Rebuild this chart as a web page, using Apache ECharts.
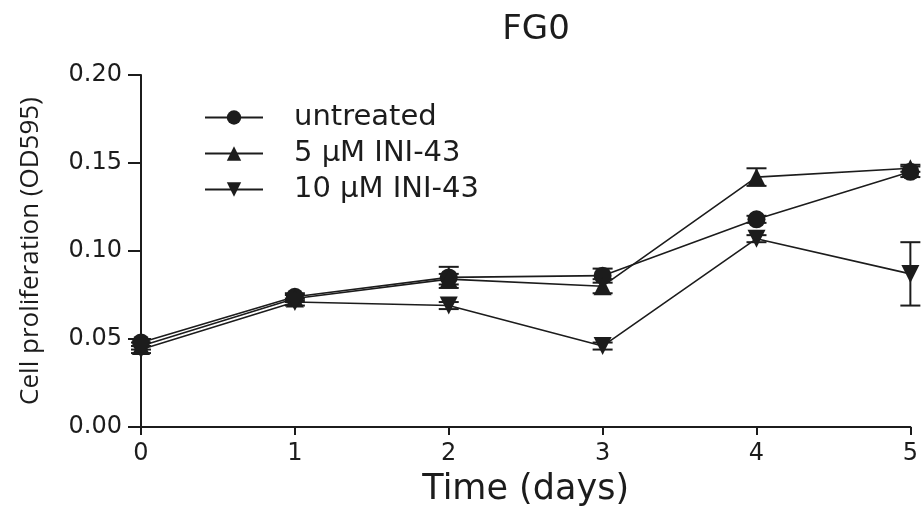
<!DOCTYPE html>
<html>
<head>
<meta charset="utf-8">
<script src="https://cdn.jsdelivr.net/npm/echarts@6/dist/echarts.min.js"></script>
<style>
  html, body { margin: 0; padding: 0; background: #fff; }
  #chart { width: 921px; height: 515px; }
</style>
</head>
<body>
<div id="chart"></div>
<script>
// days
var days = [0, 1, 2, 3, 4, 5]
// OD595 means
var untreated = [0.048, 0.074, 0.085, 0.086, 0.118, 0.145]
var uM5 = [0.046, 0.073, 0.084, 0.080, 0.142, 0.147]
var uM10 = [0.044, 0.071, 0.069, 0.046, 0.107, 0.087]
// error (+/-)
var untreatedErr = [0.002, 0.002, 0.006, 0.004, 0.002, 0.003]
var uM5Err = [0.002, 0.002, 0.003, 0.004, 0.005, 0.002]
var uM10Err = [0.002, 0.002, 0.002, 0.002, 0.002, 0.018]
var yTicks = [0, 0.05, 0.10, 0.15, 0.20]

var chart = echarts.init(document.getElementById('chart'))

function pts (vals) {
  return days.map(function (d, i) { return [d, vals[i]] })
}
function errPts (vals, err) {
  return days.map(function (d, i) { return [d, vals[i] - err[i], vals[i] + err[i]] })
}

// error bar: vertical line with caps
function renderErr (params, api) {
  var x = api.value(0)
  var lo = api.coord([x, api.value(1)])
  var hi = api.coord([x, api.value(2)])
  var w = 10
  var st = { stroke: '#1c1c1c', lineWidth: 2 }
  return {
    type: 'group',
    children: [
      { type: 'line', shape: { x1: lo[0], y1: lo[1], x2: hi[0], y2: hi[1] }, style: st },
      { type: 'line', shape: { x1: lo[0] - w, y1: lo[1], x2: lo[0] + w, y2: lo[1] }, style: st },
      { type: 'line', shape: { x1: hi[0] - w, y1: hi[1], x2: hi[0] + w, y2: hi[1] }, style: st }
    ]
  }
}

function lineSeries (name, vals, symbol, rotate) {
  return {
    name: name,
    type: 'line',
    data: pts(vals),
    symbol: symbol,
    symbolRotate: rotate,
    symbolSize: 18,
    z: 3,
    lineStyle: { color: '#1c1c1c', width: 1.6 },
    itemStyle: { color: '#1c1c1c' }
  }
}

function errSeries (vals, err) {
  return {
    type: 'custom',
    renderItem: renderErr,
    data: errPts(vals, err),
    z: 2,
    silent: true
  }
}

var option = {
  backgroundColor: '#fff',
  animation: false,
  title: {
    text: 'FG0',
    left: 531,
    top: 8,
    textAlign: 'center',
    textStyle: { fontFamily: 'DejaVu Sans', fontSize: 34, fontWeight: 'normal', color: '#1c1c1c' }
  },
  legend: {
    orient: 'vertical',
    left: 199,
    top: 98,
    itemWidth: 58,
    itemHeight: 18,
    itemGap: 7,
    textStyle: {
      fontFamily: 'DejaVu Sans',
      fontSize: 29,
      lineHeight: 26,
      color: '#1c1c1c',
      padding: [0, 0, 0, 26]
    },
    data: ['untreated', '5 µM INI-43', '10 µM INI-43']
  },
  grid: {
    left: 141,
    right: 9,
    top: 75,
    bottom: 88
  },
  xAxis: {
    type: 'value',
    min: 0,
    max: 5,
    interval: 1,
    name: 'Time (days)',
    nameLocation: 'middle',
    nameGap: 45,
    nameTextStyle: { fontFamily: 'DejaVu Sans', fontSize: 35, color: '#1c1c1c' },
    axisLine: { lineStyle: { color: '#1c1c1c', width: 2 } },
    axisTick: { lineStyle: { color: '#1c1c1c', width: 2 }, length: 8 },
    axisLabel: { fontFamily: 'DejaVu Sans', fontSize: 24, color: '#1c1c1c', margin: 15 },
    splitLine: { show: false }
  },
  yAxis: {
    type: 'value',
    min: yTicks[0],
    max: yTicks[yTicks.length - 1],
    interval: 0.05,
    name: 'Cell proliferation (OD595)',
    nameLocation: 'middle',
    nameGap: 97,
    nameTextStyle: { fontFamily: 'Open Sans', fontSize: 26, color: '#1c1c1c' },
    axisLine: { show: true, lineStyle: { color: '#1c1c1c', width: 2 } },
    axisTick: { show: true, lineStyle: { color: '#1c1c1c', width: 2 }, length: 13 },
    axisLabel: {
      fontFamily: 'DejaVu Sans',
      fontSize: 24,
      color: '#1c1c1c',
      margin: 19,
      formatter: function (v) { return v.toFixed(2) }
    },
    splitLine: { show: false }
  },
  series: [
    errSeries(untreated, untreatedErr),
    errSeries(uM5, uM5Err),
    errSeries(uM10, uM10Err),
    lineSeries('untreated', untreated, 'circle', 0),
    lineSeries('5 µM INI-43', uM5, 'triangle', 0),
    lineSeries('10 µM INI-43', uM10, 'triangle', 180)
  ]
}

chart.setOption(option)
</script>
</body>
</html>
